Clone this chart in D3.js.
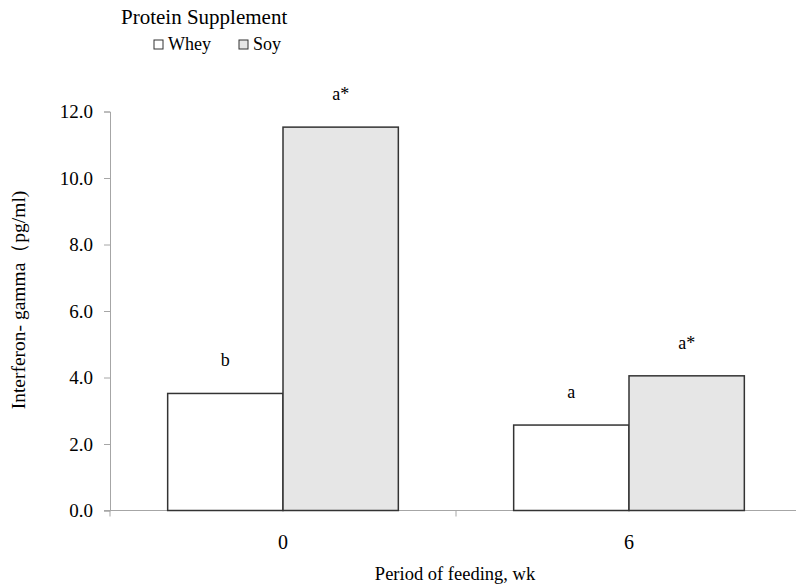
<!DOCTYPE html>
<html>
<head>
<meta charset="utf-8">
<script src="https://cdn.jsdelivr.net/npm/d3@7"></script>
<style>
  body { margin: 0; background: #fff; }
</style>
</head>
<body>
<svg id="chart"></svg>
<script>
// ---------------------- data ---------------------------
const periods = ["0", "6"];
const series = ["Whey", "Soy"];
const wheyValues = [3.52, 2.57];
const soyValues = [11.53, 4.05];
const wheyLetters = ["b", "a"];
const soyLetters = ["a*", "a*"];
const yTicks = [0, 2, 4, 6, 8, 10, 12];

// ---------------------- setup ---------------------------
const width = 796;
const height = 588;
const serif = "Liberation Serif, Times New Roman, serif";
const fills = { Whey: "#ffffff", Soy: "#e6e6e6" };

const svg = d3.select("#chart")
  .attr("width", width)
  .attr("height", height)
  .attr("font-family", serif);

const x = d3.scaleBand()
  .domain(periods)
  .range([110, 802])
  .paddingInner(0)
  .paddingOuter(0);

const xInner = d3.scaleBand()
  .domain(series)
  .range([0, x.bandwidth()])
  .paddingInner(0)
  .paddingOuter(0.5);

const y = d3.scaleLinear()
  .domain([0, 12])
  .range([510.5, 111.5]);

const rows = periods.map((p, i) => ({
  period: p,
  bars: [
    { key: "Whey", value: wheyValues[i], letter: wheyLetters[i] },
    { key: "Soy", value: soyValues[i], letter: soyLetters[i] }
  ]
}));

// y axis
const yAxis = svg.append("g")
  .attr("transform", "translate(110,0)")
  .call(d3.axisLeft(y).tickValues(yTicks).tickFormat(d3.format(".1f")).tickSize(6).tickPadding(11));
yAxis.attr("font-family", null).attr("font-size", null);
yAxis.select(".domain").attr("stroke", "#a6a6a6");
yAxis.selectAll(".tick line").attr("stroke", "#a6a6a6");
yAxis.selectAll(".tick text")
  .attr("font-family", serif)
  .attr("font-size", 19)
  .attr("fill", "#000")
  .attr("dy", "0.34em");

// x axis with ticks at band edges
const xAxis = svg.append("g")
  .attr("transform", "translate(0,510.5)");
xAxis.append("line")
  .attr("x1", 104).attr("x2", 802)
  .attr("stroke", "#a6a6a6");
const edges = [x.range()[0]].concat(periods.map(p => x(p) + x.bandwidth()));
xAxis.selectAll(".edge")
  .data(edges)
  .join("line")
  .attr("x1", d => d).attr("x2", d => d)
  .attr("y1", 0).attr("y2", 6)
  .attr("stroke", "#a6a6a6");
xAxis.selectAll(".lbl")
  .data(periods)
  .join("text")
  .attr("x", d => x(d) + x.bandwidth() / 2)
  .attr("y", 38.5)
  .attr("text-anchor", "middle")
  .attr("font-family", serif)
  .attr("font-size", 20)
  .text(d => d);

// bars
const groups = svg.selectAll(".grp")
  .data(rows)
  .join("g")
  .attr("transform", d => "translate(" + x(d.period) + ",0)");

groups.selectAll("rect")
  .data(d => d.bars)
  .join("rect")
  .attr("x", d => xInner(d.key))
  .attr("y", d => y(d.value))
  .attr("width", xInner.bandwidth())
  .attr("height", d => y(0) - y(d.value))
  .attr("fill", d => fills[d.key])
  .attr("stroke", "#333")
  .attr("stroke-width", 1.5);

groups.selectAll(".letter")
  .data(d => d.bars)
  .join("text")
  .attr("x", d => xInner(d.key) + xInner.bandwidth() / 2)
  .attr("y", d => y(d.value) - 27)
  .attr("text-anchor", "middle")
  .attr("font-family", serif)
  .attr("font-size", 18)
  .text(d => d.letter);

// axis titles
svg.append("text")
  .attr("transform", "translate(25,300) rotate(-90)")
  .attr("text-anchor", "middle")
  .attr("font-family", serif)
  .attr("font-size", 19.5)
  .text("Interferon- gamma（pg/ml)");

svg.append("text")
  .attr("x", 455)
  .attr("y", 580)
  .attr("text-anchor", "middle")
  .attr("font-family", serif)
  .attr("font-size", 18.5)
  .text("Period of feeding, wk");

// legend
svg.append("text")
  .attr("x", 121)
  .attr("y", 24)
  .attr("font-family", serif)
  .attr("font-size", 21)
  .text("Protein Supplement");

const legendX = [154, 239];
const legend = svg.selectAll(".leg")
  .data(series)
  .join("g")
  .attr("transform", (d, i) => "translate(" + legendX[i] + ",40)");
legend.append("rect")
  .attr("width", 9).attr("height", 9)
  .attr("fill", d => fills[d])
  .attr("stroke", "#333");
legend.append("text")
  .attr("x", 14)
  .attr("y", 10)
  .attr("font-family", serif)
  .attr("font-size", 18)
  .text(d => d);
</script>
</body>
</html>
